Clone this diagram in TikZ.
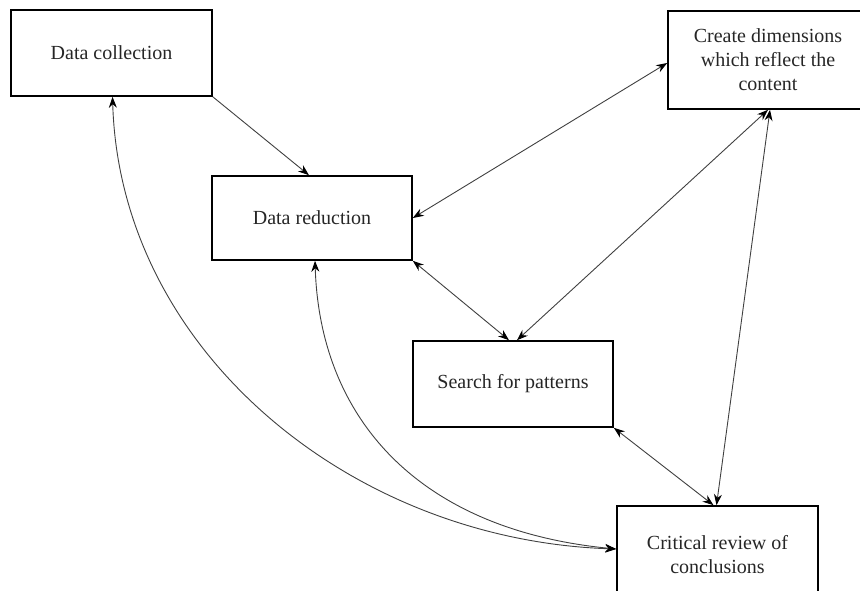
\documentclass[tikz,border=0pt]{standalone}
\usepackage{fontspec}
\setmainfont{Liberation Serif}
\usetikzlibrary{arrows.meta,calc}
\begin{document}
\begin{tikzpicture}[x=1pt,y=-1pt,
  box/.style={draw=black,line width=1.6pt,inner sep=0pt,align=center,
    text=black!85,font=\fontsize{20}{24}\selectfont},
  conn/.style={draw=black!75,line width=0.9pt},
  tip/.style={-{Stealth[length=11pt,width=8pt,black]}},
  tips/.style={{Stealth[length=11pt,width=8pt,black]}-{Stealth[length=11pt,width=8pt,black]}}]
\useasboundingbox (0,0) rectangle (860,591);
\node[box,minimum width=201pt,minimum height=86pt] (dc) at (111.5,53) {Data collection};
\node[box,minimum width=200pt,minimum height=98pt] (cd) at (768,60) {\raisebox{-4pt}{\parbox{190pt}{\centering Create dimensions\\which reflect the\\content}}};
\node[box,minimum width=200pt,minimum height=84pt] (dr) at (312,218) {Data reduction};
\node[box,minimum width=200pt,minimum height=86pt] (sp) at (513,384) {Search for patterns};
\node[box,minimum width=201pt,minimum height=98pt] (cr) at (717.5,555) {Critical review of\\conclusions};
% connectors
\draw[conn,tip] (dc.south east) -- ($(dr.north)+(-3,0)$);
\draw[conn,tips] (dr.east) -- ($(cd.west)+(0,3)$);
\draw[conn,tips] (dr.south east) -- ($(sp.north)+(-4,0)$);
\draw[conn,tips] (cd.south) -- ($(sp.north)+(4,0)$);
\draw[conn,tips] ($(cd.south)+(2,0)$) -- ($(cr.north)+(-1,0)$);
\draw[conn,tips] (sp.south east) -- ($(cr.north)+(-4,0)$);
\coordinate (crin) at ($(cr.west)+(0,-6)$);
\draw[conn,tips] (crin) .. controls (350,540) and (120,350) .. ($(dc.south)+(1,0)$);
\draw[conn,tips] (crin) .. controls (420,530) and (320,420) .. ($(dr.south)+(3,0)$);
\end{tikzpicture}
\end{document}
